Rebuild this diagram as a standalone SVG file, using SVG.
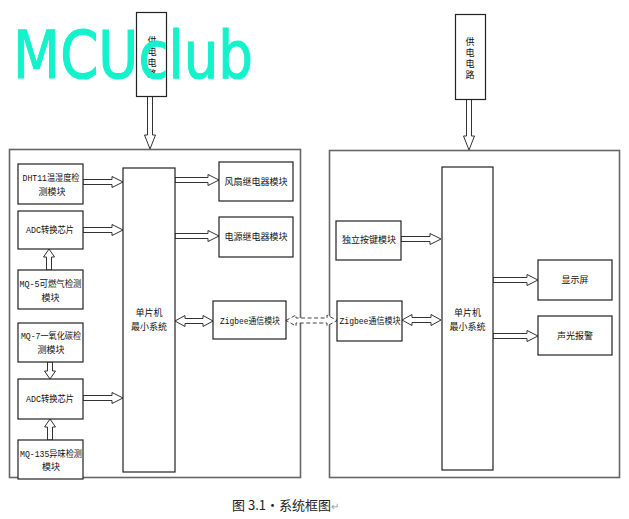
<svg xmlns="http://www.w3.org/2000/svg" width="629" height="519" viewBox="0 0 629 519">
<style>
  .container { fill: none; stroke: #666; stroke-width: 1.6; }
  .box { fill: #fff; stroke: #222; stroke-width: 1.2; }
  .arrow { fill: #fff; stroke: #333; stroke-width: 1; stroke-linejoin: miter; }
  .dashed { fill: #fff; stroke: #444; stroke-width: 1; stroke-dasharray: 4 2.5; }
  .t { font-family: "Liberation Mono", "Noto Sans CJK SC", monospace; font-size: 9px; fill: #111; text-anchor: middle; }
  .v { font-family: "Noto Sans CJK SC", sans-serif; font-size: 9px; fill: #111; text-anchor: middle; }
  .cap { font-family: "Noto Sans CJK SC", sans-serif; font-size: 13px; fill: #222; }
  .wm { font-family: "Comic Sans MS", "DejaVu Sans", sans-serif; font-size: 66px; fill: #14f2cc; stroke: #14f2cc; stroke-width: 1.2; }
</style>

<g id="containers">
  <rect id="left-system" class="container" x="9.5" y="149.5" width="291" height="328"/>
  <rect id="right-system" class="container" x="329.5" y="150.5" width="290" height="327"/>
</g>

<g id="connectors">
  <polygon class="arrow" points="147.5,96 152.5,96 152.5,135 155.5,135 150,149 144.5,135 147.5,135"/>
  <polygon class="arrow" points="466.5,99 471.5,99 471.5,136 474.5,136 469,150 463.5,136 466.5,136"/>
  <polygon class="arrow" points="83,179.5 112,179.5 112,176.5 123,182 112,187.5 112,184.5 83,184.5"/>
  <polygon class="arrow" points="83,227.5 112,227.5 112,224.5 123,230 112,235.5 112,232.5 83,232.5"/>
  <polygon class="arrow" points="83,395.5 112,395.5 112,392.5 123,398 112,403.5 112,400.5 83,400.5"/>
  <polygon class="arrow" points="46.5,270 51.5,270 51.5,257 54.5,257 49,249 43.5,257 46.5,257"/>
  <polygon class="arrow" points="47.5,362 52.5,362 52.5,371 55.5,371 50,379 44.5,371 47.5,371"/>
  <polygon class="arrow" points="47.5,440 52.5,440 52.5,427 55.5,427 50,419 44.5,427 47.5,427"/>
  <polygon class="arrow" points="175,177.5 208,177.5 208,174.5 219,180 208,185.5 208,182.5 175,182.5"/>
  <polygon class="arrow" points="175,233.5 208,233.5 208,230.5 219,236 208,241.5 208,238.5 175,238.5"/>
  <polygon class="arrow" points="175,321 185,315.5 185,318.5 203,318.5 203,315.5 213,321 203,326.5 203,323.5 185,323.5 185,326.5"/>
  <polygon class="dashed" points="286,320.5 296,315 296,318 327,318 327,315 337,320.5 327,326 327,323 296,323 296,326"/>
  <polygon class="arrow" points="401,236.5 430,236.5 430,233.5 441,239 430,244.5 430,241.5 401,241.5"/>
  <polygon class="arrow" points="402,320 412,314.5 412,317.5 431,317.5 431,314.5 441,320 431,325.5 431,322.5 412,322.5 412,325.5"/>
  <polygon class="arrow" points="493,277.5 527,277.5 527,274.5 538,280 527,285.5 527,282.5 493,282.5"/>
  <polygon class="arrow" points="493,333.5 527,333.5 527,330.5 538,336 527,341.5 527,338.5 493,338.5"/>
</g>

<g id="power-left">
  <rect class="box" x="136.5" y="12.5" width="30" height="84"/>
  <text class="v" x="152"><tspan x="152" y="44">供</tspan><tspan x="152" y="55">电</tspan><tspan x="152" y="66">电</tspan><tspan x="152" y="77">路</tspan></text>
</g>
<g id="power-right">
  <rect class="box" x="455.5" y="14.5" width="30" height="85"/>
  <text class="v" x="470"><tspan x="470" y="45">供</tspan><tspan x="470" y="56">电</tspan><tspan x="470" y="67">电</tspan><tspan x="470" y="78">路</tspan></text>
</g>

<g id="dht11">
  <rect class="box" x="18" y="164" width="65" height="40"/>
  <text class="t" x="51" y="181" textLength="57" lengthAdjust="spacingAndGlyphs">DHT11温湿度检</text>
  <text class="t" x="52" y="195">测模块</text>
</g>
<g id="adc1">
  <rect class="box" x="18" y="211" width="65" height="38"/>
  <text class="t" x="50" y="233" textLength="48" lengthAdjust="spacingAndGlyphs">ADC转换芯片</text>
</g>
<g id="mq5">
  <rect class="box" x="18" y="270" width="65" height="39"/>
  <text class="t" x="50.5" y="287" textLength="62" lengthAdjust="spacingAndGlyphs">MQ-5可燃气检测</text>
  <text class="t" x="50.5" y="301">模块</text>
</g>
<g id="mq7">
  <rect class="box" x="18" y="323" width="65" height="39"/>
  <text class="t" x="51" y="339" textLength="60" lengthAdjust="spacingAndGlyphs">MQ-7一氧化碳检</text>
  <text class="t" x="51" y="353">测模块</text>
</g>
<g id="adc2">
  <rect class="box" x="18" y="379" width="65" height="40"/>
  <text class="t" x="50" y="402" textLength="48" lengthAdjust="spacingAndGlyphs">ADC转换芯片</text>
</g>
<g id="mq135">
  <rect class="box" x="18" y="440" width="65" height="39"/>
  <text class="t" x="51" y="457" textLength="62" lengthAdjust="spacingAndGlyphs">MQ-135异味检测</text>
  <text class="t" x="51" y="470">模块</text>
</g>
<g id="mcu-left">
  <rect class="box" x="123" y="168" width="52" height="304"/>
  <text class="t" x="149" y="316">单片机</text>
  <text class="t" x="149" y="330">最小系统</text>
</g>
<g id="fan-relay">
  <rect class="box" x="219" y="162" width="74" height="39"/>
  <text class="t" x="256" y="185">风扇继电器模块</text>
</g>
<g id="power-relay">
  <rect class="box" x="219" y="217" width="74" height="40"/>
  <text class="t" x="256" y="240">电源继电器模块</text>
</g>
<g id="zigbee-left">
  <rect class="box" x="213" y="301" width="73" height="38"/>
  <text class="t" x="250" y="324" textLength="60" lengthAdjust="spacingAndGlyphs">Zigbee通信模块</text>
</g>

<g id="key-module">
  <rect class="box" x="336" y="221" width="65" height="39"/>
  <text class="t" x="369" y="243">独立按键模块</text>
</g>
<g id="zigbee-right">
  <rect class="box" x="337" y="301" width="65" height="40"/>
  <text class="t" x="370" y="324" textLength="61" lengthAdjust="spacingAndGlyphs">Zigbee通信模块</text>
</g>
<g id="mcu-right">
  <rect class="box" x="442" y="167" width="51" height="303"/>
  <text class="t" x="467.5" y="316">单片机</text>
  <text class="t" x="467.5" y="330">最小系统</text>
</g>
<g id="display">
  <rect class="box" x="538" y="260" width="74" height="40"/>
  <text class="t" x="575" y="283">显示屏</text>
</g>
<g id="alarm">
  <rect class="box" x="538" y="316" width="74" height="39"/>
  <text class="t" x="575" y="339">声光报警</text>
</g>

<g id="caption">
  <text class="cap" x="232" y="510">图 3.1·系统框图<tspan fill="#999" font-size="10">↵</tspan></text>
</g>

<g id="watermark">
  <text class="wm" x="13" y="78" textLength="240" lengthAdjust="spacingAndGlyphs">MCUclub</text>
</g>
</svg>
